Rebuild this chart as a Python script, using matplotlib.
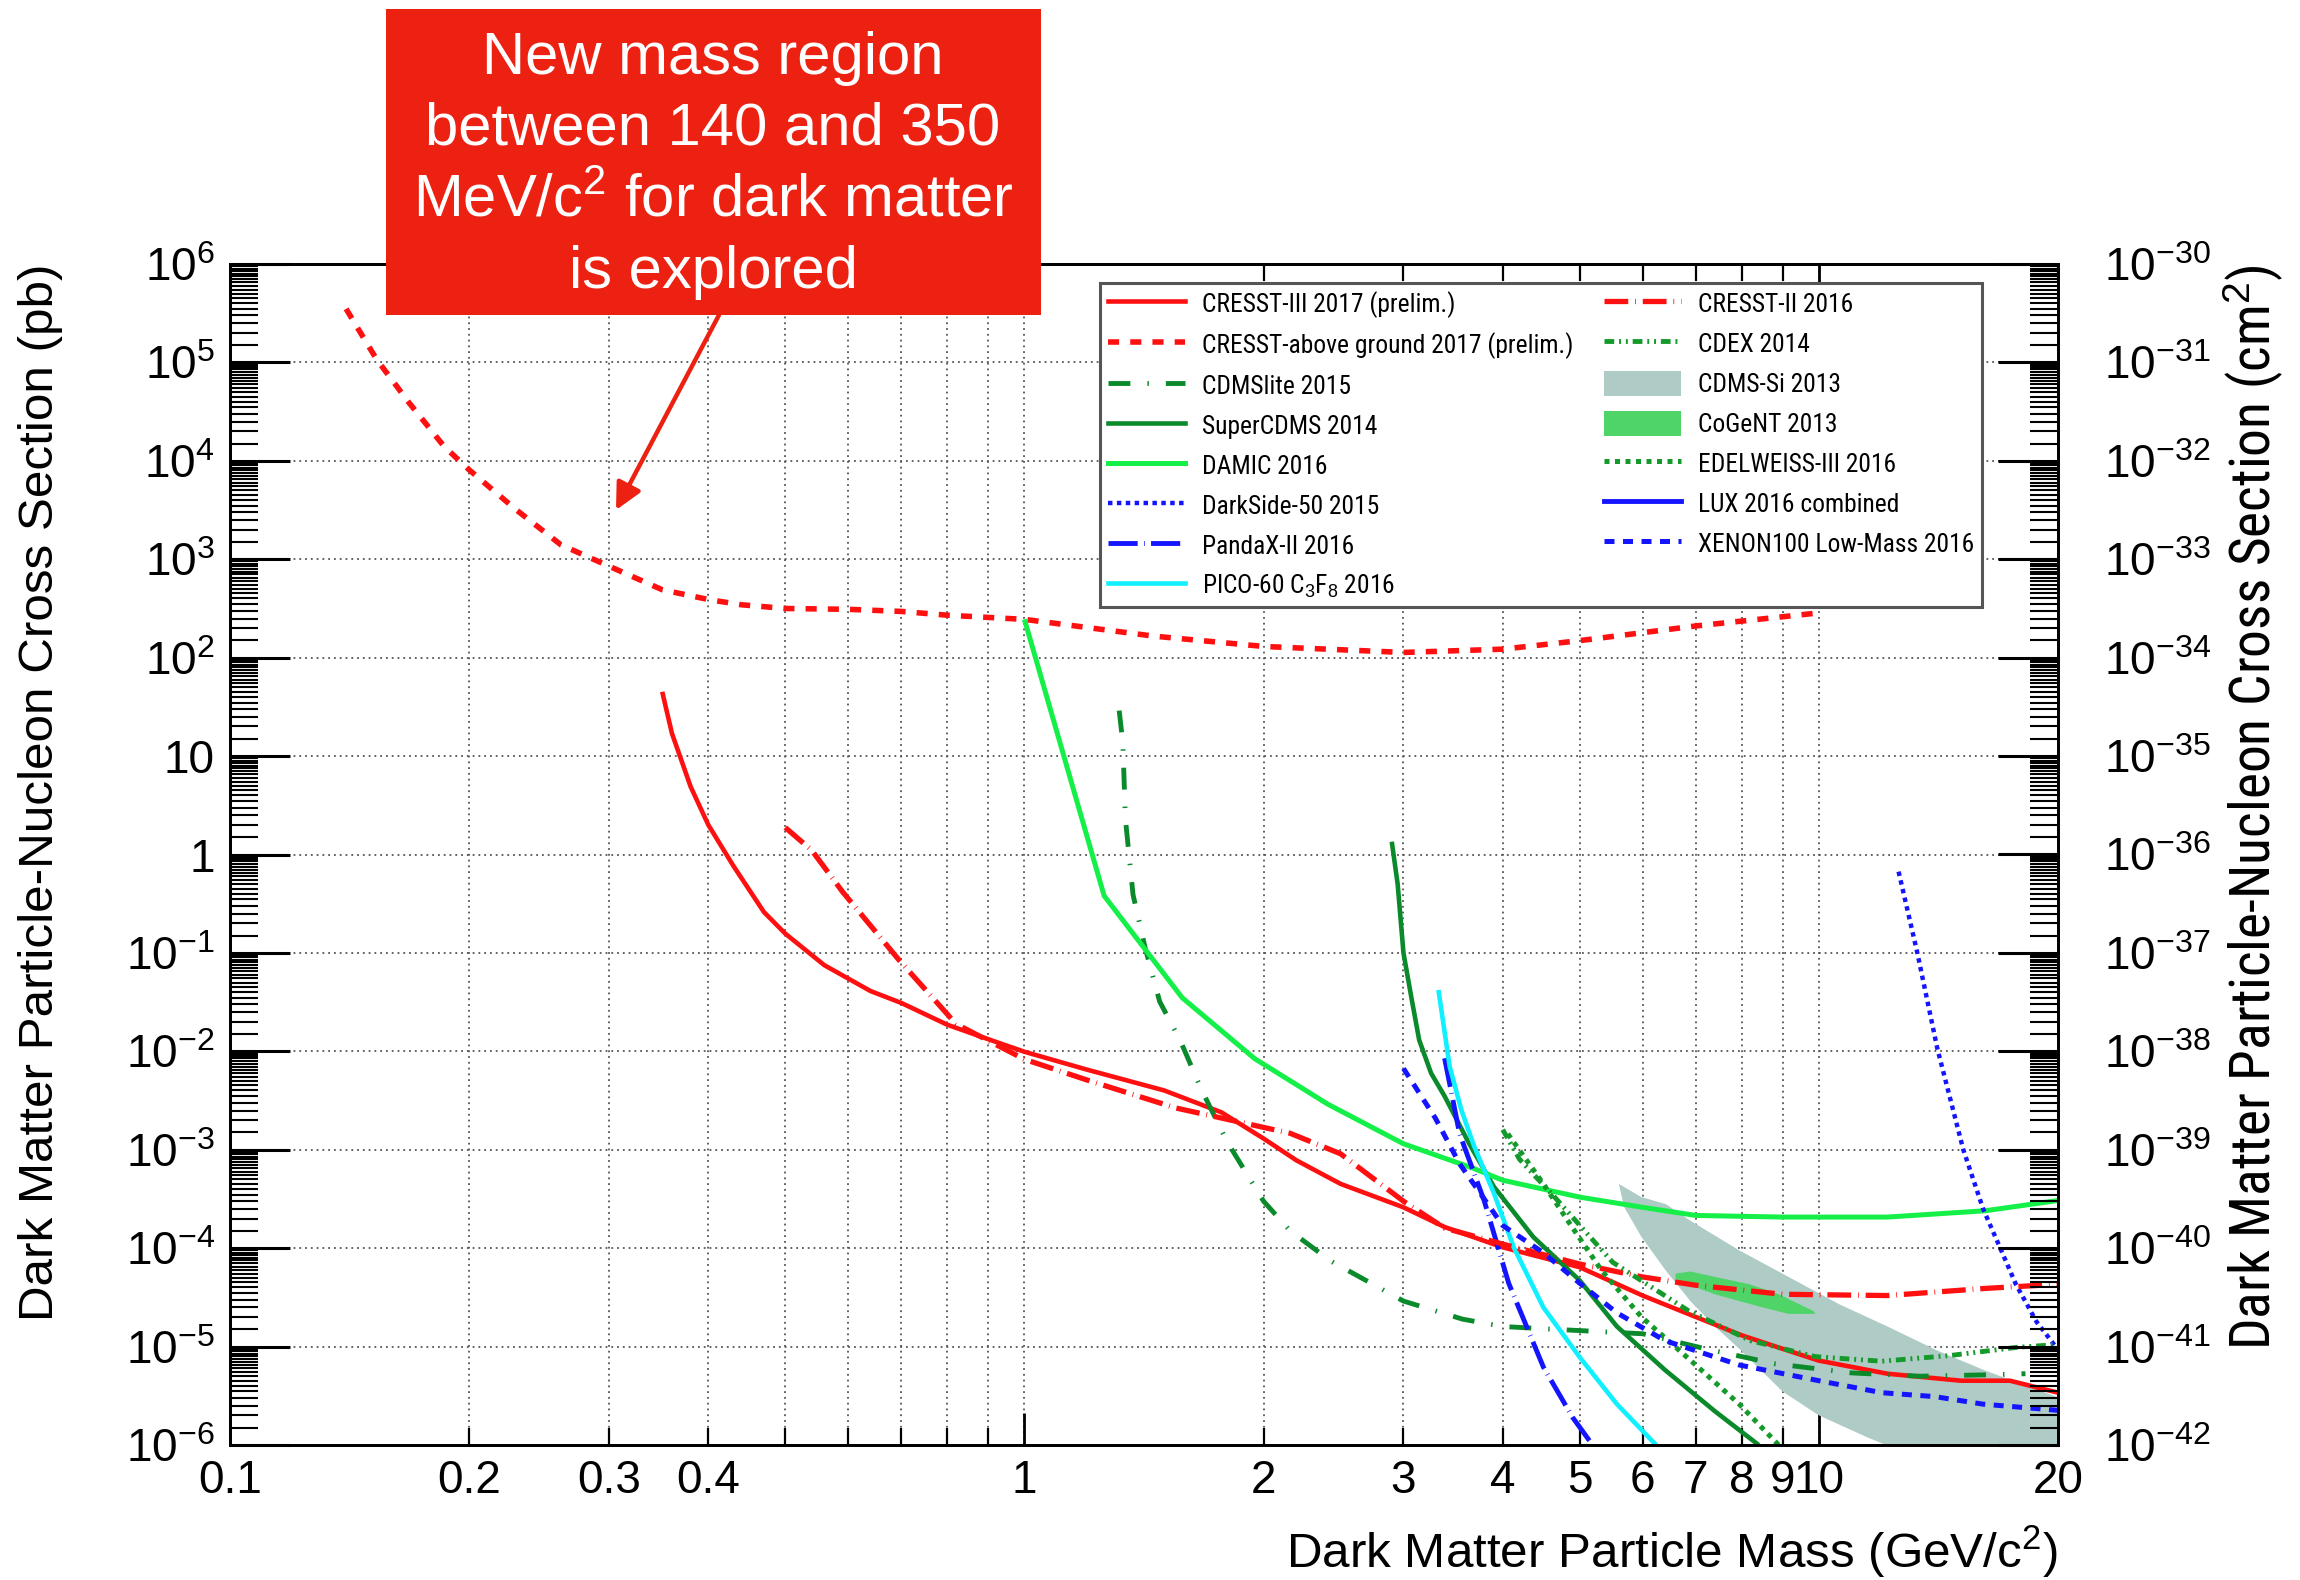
import numpy as np
import matplotlib
matplotlib.use("Agg")
import matplotlib.pyplot as plt
from matplotlib import font_manager
from matplotlib.font_manager import FontProperties
from matplotlib.ticker import FixedLocator, FixedFormatter, NullFormatter
from matplotlib.patches import Rectangle, Patch, FancyArrowPatch
from matplotlib.lines import Line2D

# ---------------- exclusion limits: mass [GeV/c^2], cross section [pb] ----------------
m_cresst3 = [0.35, 0.36, 0.38, 0.40, 0.43, 0.47, 0.50, 0.56, 0.64, 0.70, 0.80, 0.90, 1.0,
             1.2, 1.5, 1.77, 2.0, 2.2, 2.5, 3.0, 3.38, 4.0, 5.0, 6.0, 7.0, 8.0, 9.0, 10.0,
             12.2, 15.1, 17.4, 20.0]
s_cresst3 = [45, 17, 4.9, 2.0, 0.77, 0.26, 0.157, 0.075, 0.041, 0.031, 0.0186, 0.0133, 0.0099,
             0.0065, 0.0040, 0.0024, 0.0013, 7.8e-4, 4.5e-4, 2.6e-4, 1.64e-4, 1.02e-4, 6.4e-5,
             3.3e-5, 2.0e-5, 1.3e-5, 9.5e-6, 7.2e-6, 5.3e-6, 4.5e-6, 4.5e-6, 3.4e-6]

m_cresst_ag = [0.14, 0.153, 0.168, 0.186, 0.20, 0.229, 0.261, 0.30, 0.35, 0.40, 0.44, 0.50,
               0.60, 0.70, 0.80, 1.0, 1.45, 2.0, 3.0, 4.0, 5.0, 7.0, 10.0]
s_cresst_ag = [3.5e5, 1.07e5, 3.9e4, 1.4e4, 8.1e3, 3.2e3, 1.4e3, 850, 490, 390, 345, 316,
               310, 295, 270, 245, 166, 130, 113, 122, 149, 210, 285]

m_cresst2 = [0.50, 0.54, 0.59, 0.695, 0.82, 1.0, 1.2, 1.55, 1.77, 2.16, 2.5, 3.0, 3.38, 4.0,
             5.0, 6.0, 7.0, 9.0, 12.2, 16.2, 20.0]
s_cresst2 = [1.88, 1.1, 0.42, 0.085, 0.019, 0.0083, 0.0051, 0.00266, 0.0021, 0.00147, 9.1e-4,
             3.0e-4, 1.6e-4, 1.1e-4, 6.9e-5, 5.1e-5, 4.2e-5, 3.4e-5, 3.3e-5, 3.9e-5, 4.3e-5]

m_cdmslite = [1.316, 1.33, 1.34, 1.37, 1.42, 1.48, 1.57, 1.67, 1.8, 2.0, 2.16, 2.43, 3.0, 3.56,
              4.0, 4.63, 6.0, 7.2, 8.8, 11.0, 13.4, 16.9, 18.2]
s_cdmslite = [29, 13.7, 2.3, 0.39, 0.11, 0.032, 0.013, 4.1e-3, 1.2e-3, 3.0e-4, 1.5e-4, 7.4e-5,
              2.9e-5, 1.9e-5, 1.6e-5, 1.5e-5, 1.35e-5, 9.5e-6, 6.7e-6, 5.4e-6, 5.0e-6, 5.2e-6,
              5.3e-6]

m_supercdms = [2.9, 2.95, 3.0, 3.07, 3.14, 3.25, 3.38, 3.63, 3.9, 4.37, 5.0, 5.57, 6.4, 7.4, 8.4]
s_supercdms = [1.35, 0.5, 0.1, 0.035, 0.013, 6e-3, 3.5e-3, 1.15e-3, 4.2e-4, 1.3e-4, 4.7e-5,
               1.6e-5, 5.8e-6, 2.2e-6, 1.0e-6]

m_damic = [1.0, 1.26, 1.58, 1.95, 2.41, 3.0, 3.67, 4.0, 5.0, 6.0, 7.0, 9.0, 12.2, 16.2, 20.0]
s_damic = [245, 0.38, 0.035, 8.4e-3, 2.9e-3, 1.15e-3, 6.5e-4, 4.9e-4, 3.3e-4, 2.6e-4, 2.15e-4,
           2.07e-4, 2.07e-4, 2.4e-4, 3.05e-4]

m_darkside = [12.6, 13.3, 14.1, 15.2, 16.1, 16.9, 17.7, 18.8, 20.0]
s_darkside = [0.67, 0.101, 0.0106, 1.0e-3, 2.5e-4, 1.02e-4, 4.3e-5, 1.78e-5, 9.3e-6]

m_pandax = [3.38, 3.53, 3.79, 4.07, 4.5, 4.9, 5.19]
s_pandax = [8.5e-3, 1.45e-3, 3.05e-4, 4.4e-5, 6.2e-6, 1.9e-6, 1.0e-6]

m_pico = [3.32, 3.43, 3.55, 3.68, 3.9, 4.13, 4.5, 5.0, 5.57, 6.24]
s_pico = [0.042, 7e-3, 2.5e-3, 1.1e-3, 3.6e-4, 1.02e-4, 2.5e-5, 7.8e-6, 2.6e-6, 1.0e-6]

m_cdex = [4.0, 4.2, 4.65, 5.5, 6.86, 8.2, 9.9, 12.0, 14.6, 17.7, 20.0]
s_cdex = [1.6e-3, 8e-4, 3.3e-4, 7.2e-5, 2.3e-5, 1.15e-5, 7.9e-6, 7.1e-6, 8.1e-6, 9.8e-6, 1.05e-5]

m_edelweiss = [4.06, 4.5, 4.9, 5.33, 5.98, 6.9, 7.94, 8.9]
s_edelweiss = [1.45e-3, 4.5e-4, 1.6e-4, 5.9e-5, 2.0e-5, 7.2e-6, 2.6e-6, 1.0e-6]

m_xenon100 = [3.0, 3.29, 3.53, 4.0, 4.5, 5.0, 5.57, 6.4, 7.94, 10.0, 12.0, 14.0, 16.1, 20.0]
s_xenon100 = [6.7e-3, 2.1e-3, 7.2e-4, 1.7e-4, 9e-5, 4.4e-5, 2.2e-5, 1.15e-5, 6.5e-6, 4.5e-6,
              3.4e-6, 3.1e-6, 2.6e-6, 2.25e-6]

# allowed regions (upper and lower contour)
m_cdmssi_up = [5.6, 5.98, 6.42, 6.89, 7.94, 9.16, 10.6, 12.2, 14.1, 16.2, 20.0]
s_cdmssi_up = [4.5e-4, 3.3e-4, 2.8e-4, 1.9e-4, 9.5e-5, 5.1e-5, 2.7e-5, 1.6e-5, 9.1e-6, 5.7e-6,
               3.05e-6]
m_cdmssi_lo = [5.6, 5.69, 5.98, 6.42, 6.89, 7.4, 7.94, 9.0, 10.0, 11.5, 13.0, 14.5, 20.0]
s_cdmssi_lo = [4.5e-4, 2.6e-4, 1.3e-4, 5.9e-5, 2.9e-5, 1.6e-5, 9.5e-6, 3.5e-6, 2.0e-6, 1.2e-6,
               8e-7, 6e-7, 4e-7]

m_cogent_up = [6.6, 6.89, 7.4, 8.18, 8.9, 9.84, 9.9]
s_cogent_up = [5.5e-5, 5.8e-5, 5.1e-5, 4.3e-5, 3.4e-5, 2.3e-5, 2.15e-5]
m_cogent_lo = [6.6, 6.89, 7.4, 7.94, 8.5, 9.16, 9.9]
s_cogent_lo = [4.9e-5, 4.2e-5, 3.4e-5, 2.9e-5, 2.5e-5, 2.15e-5, 2.15e-5]

# axis tick labels
x_major = [0.1, 1, 10]
x_major_labels = ["0.1", "1", "10"]
x_minor = [0.2, 0.3, 0.4, 0.5, 0.6, 0.7, 0.8, 0.9, 2, 3, 4, 5, 6, 7, 8, 9, 20]
x_minor_labels = ["0.2", "0.3", "0.4", "", "", "", "", "", "2", "3", "4", "5", "6", "7", "8",
                  "9", "20"]
pb_exponents = list(range(-6, 7))
cm2_exponents = list(range(-42, -29))

# ---------------- fonts ----------------
_ttf = font_manager.fontManager.ttflist
_names = {f.name for f in _ttf}
SANS = "Liberation Sans" if "Liberation Sans" in _names else "DejaVu Sans"


def pick_narrow():
    for p in ["Liberation Sans Narrow", "Arial Narrow", "Roboto Condensed",
              "Open Sans Condensed", "Noto Sans Condensed", "DejaVu Sans Condensed"]:
        if p in _names:
            return {"family": p}
    for f in _ttf:
        if ("Narrow" in f.name or "Condensed" in f.name) and "Mono" not in f.name \
                and "Serif" not in f.name:
            return {"family": f.name}
    for fam in [SANS, "Roboto", "Open Sans", "Noto Sans", "Lato", "Inter", "DejaVu Sans"]:
        for f in _ttf:
            if f.name == fam and str(f.stretch) in ("condensed", "semi-condensed") \
                    and f.style == "normal":
                return {"family": fam, "stretch": str(f.stretch)}
    return {"family": SANS}


NARROW_KW = pick_narrow()

plt.rcParams["font.family"] = [SANS, "DejaVu Sans"]
plt.rcParams["mathtext.fontset"] = "custom"
plt.rcParams["mathtext.rm"] = SANS
plt.rcParams["mathtext.it"] = SANS + ":italic"
plt.rcParams["mathtext.bf"] = SANS + ":bold"
plt.rcParams["mathtext.sf"] = SANS

# ---------------- colours ----------------
RED = "#ff1010"
LGREEN = "#14f048"
DGREEN = "#0b8a2c"
MGREEN = "#149a2a"
BLUE = "#1414ff"
CYAN = "#10f0ff"
SI_FILL = "#aecbc5"
COGENT_FILL = "#4fd468"
BOX_RED = "#ec2112"

W, H = 2300, 1580
fig = plt.figure(figsize=(W / 100, H / 100), dpi=100)
renderer = fig.canvas.get_renderer()


def fx(px):
    return px / W


def fy(py):
    return 1 - py / H


def fit_length(txt, target_px, vertical=False):
    """Rescale a text's font size so that its extent along the reading
    direction equals target_px."""
    bb = txt.get_window_extent(renderer)
    cur = bb.height if vertical else bb.width
    txt.set_fontsize(txt.get_fontsize() * target_px / cur)


ax = fig.add_axes([fx(230), fy(1445), fx(2058) - fx(230), fy(264) - fy(1445)])
ax.set_xscale("log")
ax.set_yscale("log")
ax.set_xlim(0.1, 20)
ax.set_ylim(1e-6, 1e6)
ax.set_axisbelow(True)

# allowed regions
ax.fill(m_cdmssi_up + m_cdmssi_lo[::-1], s_cdmssi_up + s_cdmssi_lo[::-1],
        color=SI_FILL, lw=0, zorder=2)
ax.fill(m_cogent_up + m_cogent_lo[::-1], s_cogent_up + s_cogent_lo[::-1],
        color=COGENT_FILL, lw=0, zorder=2.1)

# exclusion curves
curves = [
    (m_cresst3, s_cresst3, dict(color=RED, lw=3.3, ls="-"), "CRESST-III 2017 (prelim.)"),
    (m_cresst_ag, s_cresst_ag, dict(color=RED, lw=4.0, ls=(0, (2, 2))),
     "CRESST-above ground 2017 (prelim.)"),
    (m_cdmslite, s_cdmslite, dict(color=DGREEN, lw=3.5, ls=(0, (4.5, 3.5, 0.3, 3.5))),
     "CDMSlite 2015"),
    (m_supercdms, s_supercdms, dict(color=DGREEN, lw=3.3, ls="-"), "SuperCDMS 2014"),
    (m_damic, s_damic, dict(color=LGREEN, lw=3.6, ls="-"), "DAMIC 2016"),
    (m_darkside, s_darkside, dict(color=BLUE, lw=3.2, ls=(0, (1, 1))), "DarkSide-50 2015"),
    (m_pandax, s_pandax, dict(color=BLUE, lw=3.5, ls=(0, (6, 1.3, 0.15, 1.3))),
     "PandaX-II 2016"),
    (m_pico, s_pico, dict(color=CYAN, lw=3.3, ls="-"), r"PICO-60 C$_3$F$_8$ 2016"),
    (m_cresst2, s_cresst2, dict(color=RED, lw=3.8, ls=(0, (4.5, 1.3, 0.15, 1.3))),
     "CRESST-II 2016"),
    (m_cdex, s_cdex, dict(color=MGREEN, lw=3.5, ls=(0, (2, 1, 0.4, 1, 0.4, 1))), "CDEX 2014"),
    (m_edelweiss, s_edelweiss, dict(color=MGREEN, lw=3.6, ls=(0, (1, 1.1))),
     "EDELWEISS-III 2016"),
    (None, None, dict(color=BLUE, lw=3.5, ls="-"), "LUX 2016 combined"),
    (m_xenon100, s_xenon100, dict(color=BLUE, lw=3.6, ls=(0, (2, 1.7))),
     "XENON100 Low-Mass 2016"),
]
handles = {}
for m, s, st, lab in curves:
    if m is not None:
        ax.plot(m, s, zorder=3, solid_capstyle="butt", dash_capstyle="butt", **st)
    handles[lab] = Line2D([], [], dash_capstyle="butt", **st)
handles["CDMS-Si 2013"] = Patch(facecolor=SI_FILL, edgecolor="none")
handles["CoGeNT 2013"] = Patch(facecolor=COGENT_FILL, edgecolor="none")

order = ["CRESST-III 2017 (prelim.)", "CRESST-above ground 2017 (prelim.)", "CDMSlite 2015",
         "SuperCDMS 2014", "DAMIC 2016", "DarkSide-50 2015", "PandaX-II 2016",
         r"PICO-60 C$_3$F$_8$ 2016",
         "CRESST-II 2016", "CDEX 2014", "CDMS-Si 2013", "CoGeNT 2013", "EDELWEISS-III 2016",
         "LUX 2016 combined", "XENON100 Low-Mass 2016"]

# ---------------- axes styling ----------------
grid_kw = dict(ls=(0, (1, 2.2)), color="#555555", lw=1.3)
ax.grid(True, which="major", axis="y", **grid_kw)
ax.grid(True, which="both", axis="x", **grid_kw)

ax.xaxis.set_major_locator(FixedLocator(x_major))
ax.xaxis.set_major_formatter(FixedFormatter(x_major_labels))
ax.xaxis.set_minor_locator(FixedLocator(x_minor))
ax.xaxis.set_minor_formatter(FixedFormatter(x_minor_labels))

pb_major = [10.0 ** e for e in pb_exponents]
pb_labels = []
for e in pb_exponents:
    if e == 0:
        pb_labels.append("1")
    elif e == 1:
        pb_labels.append("10")
    else:
        pb_labels.append(r"$10^{%d}$" % e)
pb_minor = [k * 10.0 ** e for e in pb_exponents[:-1] for k in np.arange(1.5, 10, 0.5)]
ax.yaxis.set_major_locator(FixedLocator(pb_major))
ax.yaxis.set_major_formatter(FixedFormatter(pb_labels))
ax.yaxis.set_minor_locator(FixedLocator(pb_minor))
ax.yaxis.set_minor_formatter(NullFormatter())

ax.tick_params(axis="x", which="major", direction="in", length=23, width=2.0, top=True,
               bottom=True, labelsize=33, pad=10)
ax.tick_params(axis="x", which="minor", direction="in", length=12, width=1.6, top=True,
               bottom=True, labelsize=33, pad=10)
ax.tick_params(axis="y", which="major", direction="in", length=43, width=2.2, left=True,
               right=False, labelsize=33, pad=11)
ax.tick_params(axis="y", which="minor", direction="in", length=20, width=1.5, left=True,
               right=False)
for sp in ax.spines.values():
    sp.set_linewidth(2.0)
    sp.set_zorder(4)

ax2 = ax.twinx()
ax2.set_yscale("log")
ax2.set_ylim(1e-42, 1e-30)
cm2_major = [10.0 ** e for e in cm2_exponents]
cm2_labels = [r"$10^{%d}$" % e for e in cm2_exponents]
cm2_minor = [k * 10.0 ** e for e in cm2_exponents[:-1] for k in np.arange(1.5, 10, 0.5)]
ax2.yaxis.set_major_locator(FixedLocator(cm2_major))
ax2.yaxis.set_major_formatter(FixedFormatter(cm2_labels))
ax2.yaxis.set_minor_locator(FixedLocator(cm2_minor))
ax2.yaxis.set_minor_formatter(NullFormatter())
ax2.tick_params(axis="y", which="major", direction="in", length=43, width=2.2, left=False,
                right=True, labelsize=33, pad=33)
ax2.tick_params(axis="y", which="minor", direction="in", length=20, width=1.5, left=False,
                right=True)
for sp in ax2.spines.values():
    sp.set_linewidth(2.0)

# ---------------- axis titles ----------------
t_left = fig.text(fx(41), fy(264), "Dark Matter Particle-Nucleon Cross Section (pb)",
                  rotation=90, ha="center", va="top", fontsize=35)
fit_length(t_left, 1056, vertical=True)
t_right = fig.text(fx(2254), fy(264), r"Dark Matter Particle-Nucleon Cross Section (cm$^2$)",
                   rotation=90, ha="center", va="top",
                   fontproperties=FontProperties(size=38, **NARROW_KW))
fit_length(t_right, 1086, vertical=True)
t_x = fig.text(fx(2058), fy(1552), r"Dark Matter Particle Mass (GeV/c$^2$)", ha="right",
               va="center", fontsize=35)
fit_length(t_x, 772)

# ---------------- legend ----------------
probe = fig.text(0, 0, "CRESST-above ground 2017 (prelim.)",
                 fontproperties=FontProperties(size=16, **NARROW_KW))
leg_size = 16 * 373 / probe.get_window_extent(renderer).width
probe.remove()
fs_px = leg_size * 100 / 72
hh = max(26 / fs_px, 1.15)
leg = fig.legend([handles[k] for k in order], order, ncol=2, loc="upper left",
                 bbox_to_anchor=(fx(1100), fy(283)), bbox_transform=fig.transFigure,
                 frameon=True, fancybox=False, edgecolor="#555555", framealpha=1,
                 prop=FontProperties(size=leg_size, **NARROW_KW),
                 handlelength=77 / fs_px, handleheight=hh,
                 handletextpad=17 / fs_px, columnspacing=31 / fs_px,
                 labelspacing=(43 - hh * fs_px) / fs_px, borderpad=0.3,
                 borderaxespad=0)
leg.get_frame().set_linewidth(2.2)

# ---------------- call-out ----------------
fig.add_artist(Rectangle((fx(386), fy(315)), fx(1041) - fx(386), fy(9) - fy(315),
                         transform=fig.transFigure, facecolor=BOX_RED, edgecolor="none",
                         zorder=10))
callout = ["New mass region", "between 140 and 350", r"MeV/c$^2$ for dark matter",
           "is explored"]
for txt, yy in zip(callout, [59, 129, 201, 273]):
    fig.text(fx(713), fy(yy), txt, ha="center", va="center", color="white", fontsize=43,
             zorder=11)
fig.add_artist(FancyArrowPatch((fx(719), fy(315)), (fx(616), fy(510)),
                               transform=fig.transFigure, arrowstyle="-|>",
                               mutation_scale=40, lw=3.2, color=BOX_RED, zorder=10,
                               shrinkA=0, shrinkB=0))

fig.savefig("out.png", dpi=100)
